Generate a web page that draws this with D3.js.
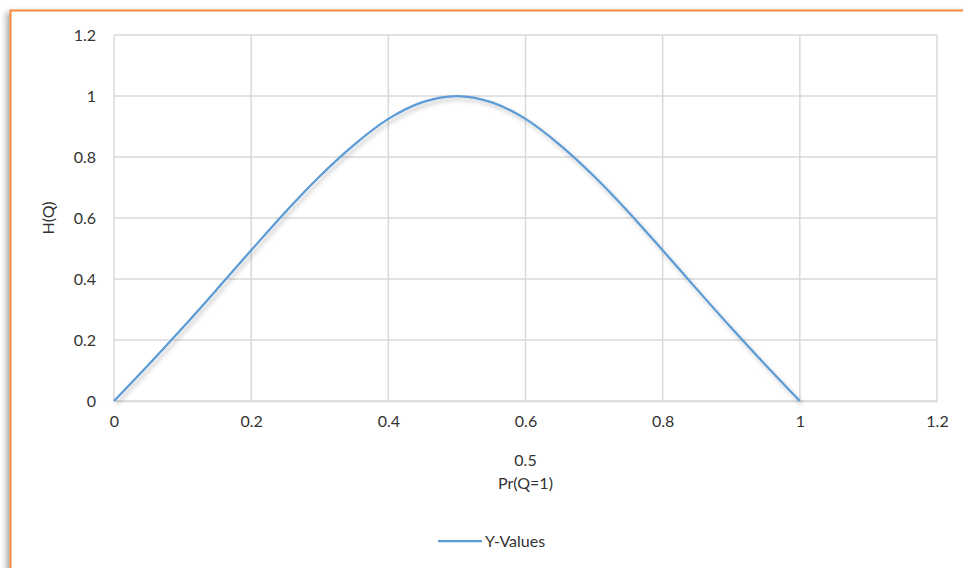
<!DOCTYPE html>
<html><head><meta charset="utf-8">
<script src="https://cdn.jsdelivr.net/npm/d3@7"></script>
<style>
body{margin:0;background:#fff;overflow:hidden;}
text{font-family:Lato,"Open Sans",sans-serif;}
</style></head>
<body><svg id="c" width="963" height="568"></svg>
<script>
const xValues = [0,0.05,0.1,0.15,0.2,0.25,0.3,0.35,0.4,0.45,0.5,0.55,0.6,0.65,0.7,0.75,0.8,0.85,0.9,0.95,1];
const yValues = [0,0.118,0.24,0.366,0.494,0.62,0.737,0.84,0.925,0.98,1,0.98,0.925,0.84,0.737,0.62,0.494,0.366,0.24,0.118,0];
const xTicks = [0,0.2,0.4,0.6,0.8,1,1.2];
const yTicks = [0,0.2,0.4,0.6,0.8,1,1.2];
const seriesName = "Y-Values";
const xTitle = "Pr(Q=1)";
const yTitle = "H(Q)";
const extraLabel = "0.5";

const FS = 16, TC = "#333333";
const svg = d3.select("#c");
const defs = svg.append("defs");
const f = defs.append("filter").attr("id","sh").attr("x","-5%").attr("y","-5%").attr("width","110%").attr("height","110%");
f.append("feDropShadow").attr("dx",-3).attr("dy",3).attr("stdDeviation",3).attr("flood-color","#000").attr("flood-opacity",0.35);
const f2 = defs.append("filter").attr("id","lsh").attr("x","-5%").attr("y","-20%").attr("width","110%").attr("height","140%");
f2.append("feDropShadow").attr("dx",2).attr("dy",3).attr("stdDeviation",2).attr("flood-color","#000").attr("flood-opacity",0.25);

// frame
svg.append("rect").attr("x",10.5).attr("y",10.5).attr("width",1000).attr("height",600)
  .attr("fill","#fff").attr("stroke","#f5883f").attr("stroke-width",2).attr("filter","url(#sh)");

const x = d3.scaleLinear().domain([0,1.2]).range([114,937]);
const y = d3.scaleLinear().domain([0,1.2]).range([401,35]);

const g = svg.append("g");
g.selectAll("line.v").data(xTicks).join("line").attr("class","v")
  .attr("x1",d=>x(d)).attr("x2",d=>x(d)).attr("y1",y(0)).attr("y2",y(1.2))
  .attr("stroke","#d9d9d9").attr("stroke-width",1.5);
g.selectAll("line.h").data(yTicks).join("line").attr("class","h")
  .attr("y1",d=>y(d)).attr("y2",d=>y(d)).attr("x1",x(0)).attr("x2",x(1.2))
  .attr("stroke","#d9d9d9").attr("stroke-width",1.5);

const xAxis = d3.axisBottom(x).tickValues(xTicks).tickSize(0).tickPadding(15).tickFormat(d=>String(d));
const xa = svg.append("g").attr("transform",`translate(0,${y(0)})`).call(xAxis);
xa.select(".domain").attr("stroke","#d9d9d9").attr("stroke-width",1.5);
xa.selectAll("text").attr("font-size",FS).attr("fill",TC).attr("font-family","Lato,'Open Sans',sans-serif");

const yAxis = d3.axisLeft(y).tickValues(yTicks).tickSize(0).tickPadding(18).tickFormat(d=>String(d));
const ya = svg.append("g").attr("transform",`translate(${x(0)},0)`).call(yAxis);
ya.select(".domain").remove();
ya.selectAll("text").attr("font-size",FS).attr("fill",TC).attr("font-family","Lato,'Open Sans',sans-serif");

const data = xValues.map((v,i)=>[v,yValues[i]]);
const line = d3.line().x(d=>x(d[0])).y(d=>y(d[1])).curve(d3.curveMonotoneX);
svg.append("path").datum(data).attr("d",line).attr("fill","none")
  .attr("stroke","#5b9bd5").attr("stroke-width",2.25).attr("filter","url(#lsh)");

svg.append("text").attr("x",x(0.6)).attr("y",466).attr("text-anchor","middle")
  .attr("font-size",FS).attr("fill",TC).text(extraLabel);
svg.append("text").attr("x",x(0.6)).attr("y",489).attr("text-anchor","middle")
  .attr("font-size",FS).attr("fill",TC).text(xTitle);
svg.append("text").attr("transform",`translate(54,${y(0.6)}) rotate(-90)`).attr("text-anchor","middle")
  .attr("font-size",FS).attr("fill",TC).text(yTitle);

const lg = svg.append("g");
lg.append("line").attr("x1",438).attr("x2",482).attr("y1",541).attr("y2",541)
  .attr("stroke","#5b9bd5").attr("stroke-width",2.25);
lg.append("text").attr("x",485).attr("y",546.5).attr("font-size",FS).attr("fill",TC).text(seriesName);
</script></body></html>
